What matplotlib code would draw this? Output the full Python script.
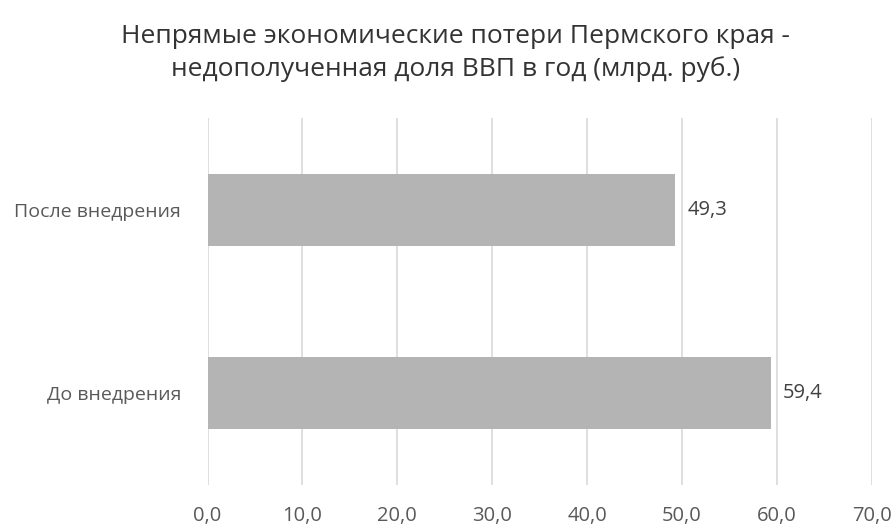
import matplotlib
matplotlib.use("Agg")
import matplotlib.pyplot as plt

categories = ["До внедрения", "После внедрения"]
values = [59.4, 49.3]
x_ticks = [0, 10, 20, 30, 40, 50, 60, 70]
title = "Непрямые экономические потери Пермского края -\nнедополученная доля ВВП в год (млрд. руб.)"

plt.rcParams["font.family"] = ["Open Sans", "DejaVu Sans"]
text_color = "#595959"

fig = plt.figure(figsize=(8.96, 5.26), dpi=100)
fig.patch.set_facecolor("white")
ax = fig.add_axes([0.2316, 0.0779, 0.7413, 0.6978])

y = list(range(len(categories)))
ax.barh(y, values, height=0.39, color="#B4B4B4", zorder=2)

for yi, v in zip(y, values):
    ax.text(v + 1.25, yi, f"{v:.1f}".replace(".", ","), va="center", ha="left",
            fontsize=14.5, color="#404040")

ax.set_xlim(0, 70)
ax.set_ylim(-0.5, 1.5)
ax.set_xticks(x_ticks)
ax.set_xticklabels([f"{t:.1f}".replace(".", ",") for t in x_ticks], fontsize=14.5, color=text_color)
ax.set_yticks(y)
ax.set_yticklabels(categories, fontsize=14, color=text_color)
ax.tick_params(axis="both", length=0)
ax.tick_params(axis="x", pad=15)
ax.tick_params(axis="y", pad=19)

ax.grid(axis="x", color="#D9D9D9", linewidth=1.2, zorder=0)
for s in ax.spines.values():
    s.set_visible(False)

fig.text(0.508, 0.899, title, ha="center", va="center", fontsize=19,
         color="#333333", linespacing=1.36)

fig.savefig("out.png", dpi=100, facecolor="white")
